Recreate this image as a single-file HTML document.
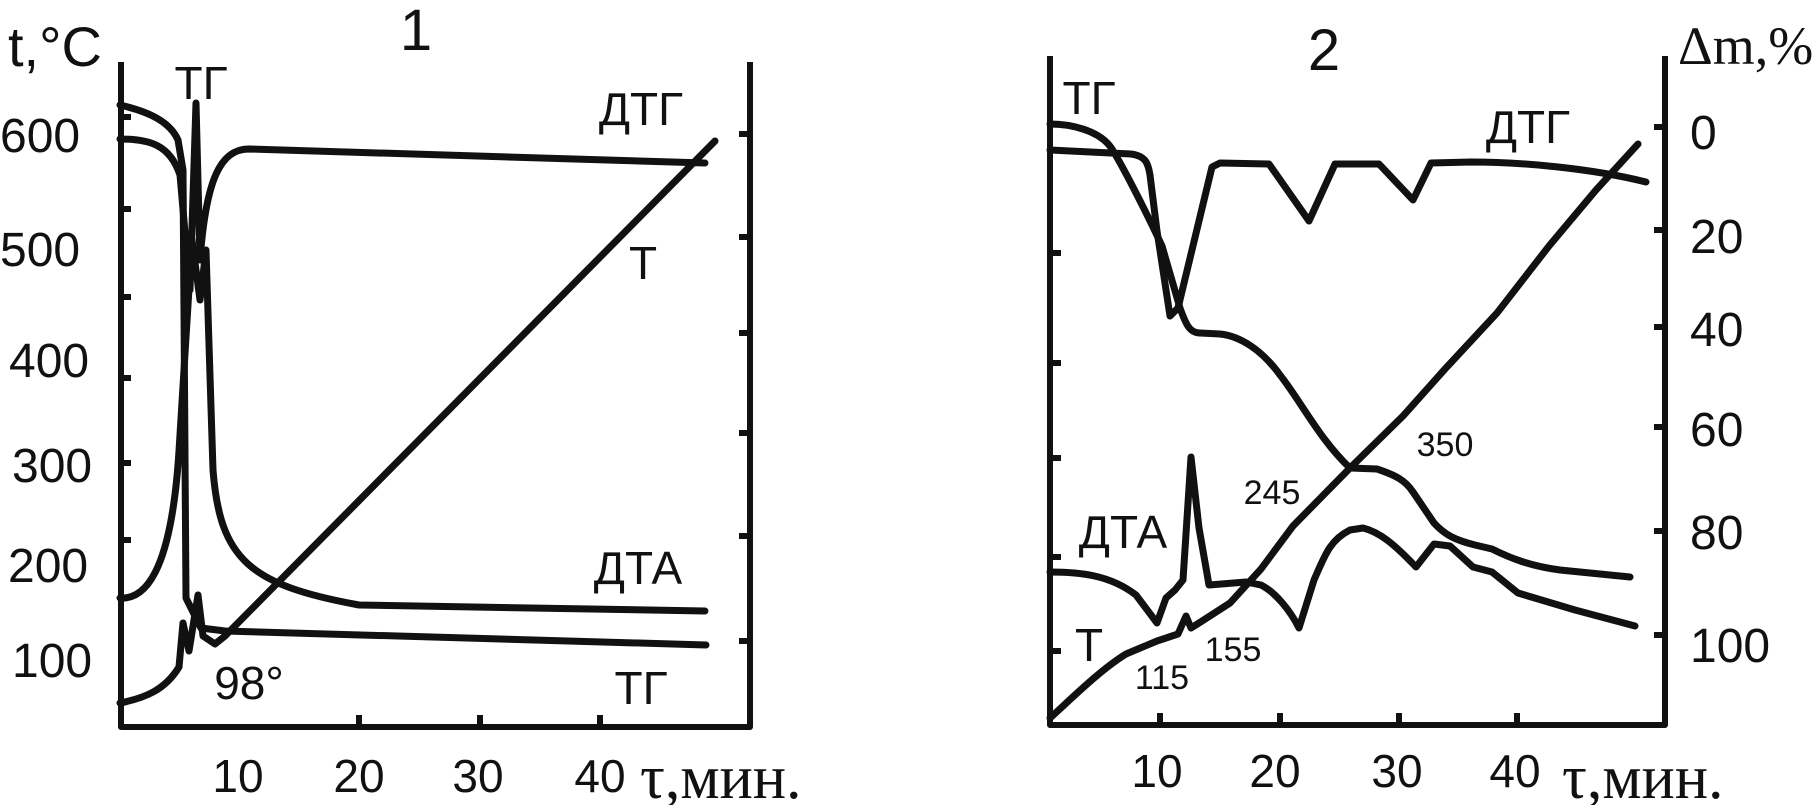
<!DOCTYPE html>
<html><head><meta charset="utf-8"><style>
html,body{margin:0;padding:0;background:#fff;}
svg{display:block;}
text{font-family:"Liberation Sans",sans-serif;fill:#111;}
.s{font-family:"Liberation Serif",serif;}
</style></head><body>
<svg width="1820" height="805" viewBox="0 0 1820 805" xmlns="http://www.w3.org/2000/svg">
<g stroke="#111" stroke-width="6" fill="none" stroke-linejoin="round">
<path d="M121,62 L121,727 L750,727 L750,62"/>
<path d="M359,727 v-12 M480,727 v-12 M600,727 v-12"/>
<path d="M121,117 h10 M121,209 h10 M121,297 h10 M121,378 h10 M121,463 h10 M121,540 h10"/>
<path d="M750,134 h-11 M750,237 h-11 M750,333 h-11 M750,433 h-11 M750,536 h-11 M750,641 h-11"/>
<path d="M1050,56 L1050,725 L1665,725 L1665,56"/>
<path d="M1160,725 v-12 M1280,725 v-12 M1399,725 v-12 M1517,725 v-12"/>
<path d="M1050,253 h11 M1050,363 h11 M1050,458 h11 M1050,557 h11 M1050,651 h11"/>
<path d="M1665,127 h-11 M1665,230 h-11 M1665,327 h-11 M1665,427 h-11 M1665,531 h-11 M1665,635 h-11"/>
</g>
<g stroke="#111" stroke-width="7" fill="none" stroke-linejoin="round" stroke-linecap="round">
<path d="M120,105 C150,112 170,122 178,140 L183,170 L186,598 L201,628 L225,631 L706,645"/>
<path d="M120,139 C150,139 170,145 180,175 L190,290 L196,103 L200,260 C206,180 220,149 249,149 L705,163"/>
<path d="M120,598 C150,600 172,560 179,451 L192,240 L200,300 L206,250 L213,470 C220,560 250,585 359,605 L705,611"/>
<path d="M120,703 C145,698 165,690 179,667 L183,623 L189,651 L198,595 L203,636 L215,644 L225,636 L715,141"/>
<path d="M1050,124 C1070,124 1100,130 1112,149 C1125,170 1150,220 1162,246 L1180,308 C1186,325 1190,333 1200,333 L1220,334 C1240,336 1262,350 1280,375 C1300,400 1320,440 1350,468 L1377,469 C1395,475 1405,480 1413,492 L1434,523 C1445,535 1455,540 1475,545 L1492,549 C1510,558 1530,566 1560,570 L1630,577"/>
<path d="M1050,150 L1131,154 C1145,156 1148,162 1150,175 L1157,231 L1170,316 L1178,308 L1212,167 L1220,163 L1269,164 L1309,221 L1335,164 L1379,164 L1413,200 L1431,163 L1471,162 C1520,162 1590,168 1646,182"/>
<path d="M1050,572 C1080,572 1110,575 1136,595 L1157,623 L1166,598 L1175,590 L1183,580 L1191,457 L1199,528 L1209,585 L1246,582 L1261,585 C1275,592 1290,610 1299,628 L1314,580 C1325,555 1330,540 1350,530 L1363,528 C1380,532 1395,545 1416,567 L1434,544 L1450,546 L1473,567 L1492,572 L1518,593 L1575,610 L1635,626"/>
<path d="M1050,718 C1070,700 1100,670 1126,654 L1157,641 L1178,634 L1186,616 L1191,628 L1199,623 L1230,603 L1261,569 L1293,526 L1350,468 L1403,416 L1445,369 L1497,313 L1549,246 L1596,190 L1638,144"/>
</g>
<g font-size="48">
<text x="0" y="152">600</text>
<text x="0" y="266">500</text>
<text x="9" y="377">400</text>
<text x="12" y="482">300</text>
<text x="8" y="582">200</text>
<text x="12" y="677">100</text>
<text x="1690" y="149">0</text>
<text x="1690" y="253">20</text>
<text x="1690" y="346">40</text>
<text x="1690" y="446">60</text>
<text x="1690" y="549">80</text>
<text x="1690" y="662">100</text>
</g>
<g font-size="46" text-anchor="middle">
<text x="238" y="792">10</text>
<text x="359" y="792">20</text>
<text x="478" y="792">30</text>
<text x="600" y="792">40</text>
<text x="1157" y="787">10</text>
<text x="1275" y="787">20</text>
<text x="1397" y="787">30</text>
<text x="1515" y="787">40</text>
</g>
<g font-size="46" text-anchor="middle">
<text x="201" y="99">ТГ</text>
<text x="641" y="125">ДТГ</text>
<text x="643" y="279">Т</text>
<text x="638" y="584">ДТА</text>
<text x="641" y="704">ТГ</text>
<text x="249" y="699">98°</text>
<text x="1089" y="114">ТГ</text>
<text x="1528" y="143">ДТГ</text>
<text x="1123" y="548">ДТА</text>
<text x="1089" y="661">Т</text>
</g>
<g font-size="34" text-anchor="middle">
<text x="1162" y="689">115</text>
<text x="1233" y="661">155</text>
<text x="1272" y="504">245</text>
<text x="1445" y="456">350</text>
</g>
<text x="8" y="66" font-size="56">t,°C</text>
<text x="416" y="50" font-size="58" text-anchor="middle">1</text>
<text x="1324" y="70" font-size="58" text-anchor="middle">2</text>
<text class="s" x="1678" y="64" font-size="54">Δm,%</text>
<text class="s" x="640" y="798" font-size="62">τ,мин.</text>
<text class="s" x="1562" y="798" font-size="62">τ,мин.</text>
</svg>
</body></html>
